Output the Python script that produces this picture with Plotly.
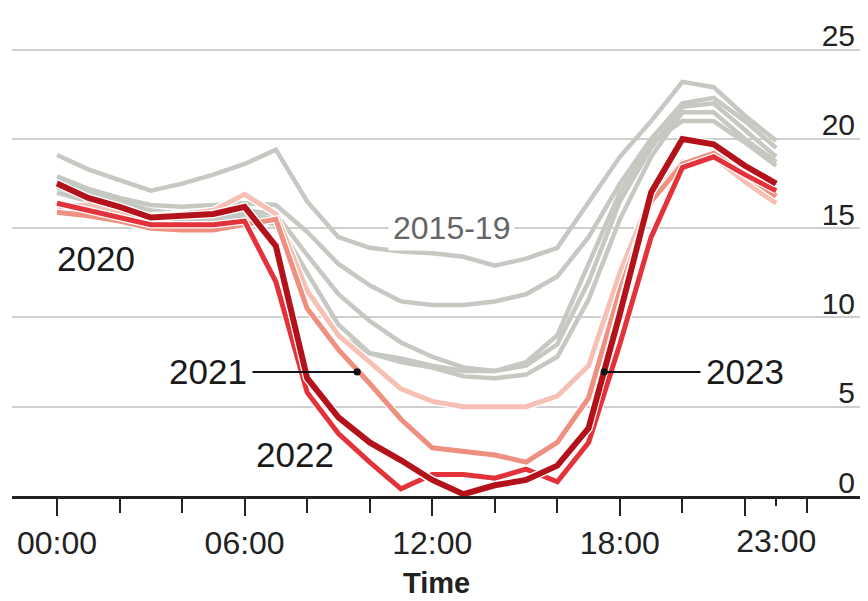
import plotly.graph_objects as go

# ---------------- data ----------------
hours = list(range(24))

gray_a = [19.1, 18.3, 17.7, 17.1, 17.5, 18.0, 18.6, 19.4, 16.5, 14.5, 13.9, 13.7,
          13.6, 13.4, 12.9, 13.3, 13.9, 16.5, 19.0, 21.0, 23.2, 22.9, 21.3, 19.9]
gray_b = [17.9, 17.2, 16.7, 16.3, 16.2, 16.3, 16.4, 16.3, 14.8, 13.0, 11.8, 10.9,
          10.7, 10.7, 10.9, 11.3, 12.3, 14.5, 17.5, 20.0, 22.0, 22.3, 21.0, 19.5]
gray_c = [17.6, 17.0, 16.5, 16.0, 15.8, 15.8, 16.0, 15.8, 13.5, 11.3, 9.8, 8.6,
          7.8, 7.2, 7.0, 7.3, 8.5, 12.0, 16.5, 19.5, 21.8, 22.0, 20.5, 19.0]
gray_d = [17.3, 16.7, 16.2, 15.8, 15.6, 15.6, 15.8, 15.5, 12.5, 9.6, 8.0, 7.5,
          7.2, 6.7, 6.6, 6.8, 7.8, 11.0, 15.5, 19.0, 21.5, 21.5, 20.0, 18.7]
gray_e = [17.0, 16.5, 16.0, 15.6, 15.5, 15.5, 15.6, 15.2, 11.5, 9.0, 8.0, 7.7,
          7.3, 7.0, 7.0, 7.5, 9.0, 13.0, 17.0, 19.8, 21.0, 21.0, 19.8, 18.5]
gray_years = [gray_a, gray_b, gray_c, gray_d, gray_e]

y2020 = [16.2, 16.3, 15.8, 15.7, 15.8, 16.0, 16.9, 15.8, 11.5, 9.0, 7.5, 6.0,
         5.3, 5.0, 5.0, 5.0, 5.6, 7.3, 12.5, 16.8, 18.7, 19.0, 17.6, 16.4]
y2021 = [15.9, 15.7, 15.4, 15.0, 14.9, 14.9, 15.2, 15.5, 10.5, 8.2, 6.3, 4.3,
         2.7, 2.5, 2.3, 1.9, 3.0, 5.5, 11.5, 16.5, 18.6, 19.2, 18.0, 16.8]
y2022 = [16.4, 16.0, 15.6, 15.2, 15.2, 15.2, 15.4, 12.0, 5.8, 3.5, 1.9, 0.4,
         1.2, 1.2, 1.0, 1.5, 0.8, 3.0, 8.5, 14.5, 18.4, 19.0, 18.0, 17.1]
y2023 = [17.5, 16.7, 16.2, 15.6, 15.7, 15.8, 16.2, 14.0, 6.6, 4.4, 3.0, 2.0,
         0.9, 0.1, 0.6, 0.9, 1.7, 3.8, 10.2, 17.0, 20.0, 19.7, 18.5, 17.5]

red_series = [("2020", y2020, "#f6c0b4", 5),
              ("2021", y2021, "#ee8f80", 5),
              ("2022", y2022, "#e3323a", 5),
              ("2023", y2023, "#b3121b", 6)]

x_tick_vals = [0, 6, 12, 18, 22]
x_tick_text = ["00:00", "06:00", "12:00", "18:00", ""]
x_end_tick = [23]
x_end_text = ["23:00"]
y_tick_vals = [0, 5, 10, 15, 20, 25]
x_title = "Time"

FONT = "Liberation Sans, Arial, sans-serif"
GRAY = "#c6c8c2"

fig = go.Figure()

for i, g in enumerate(gray_years):
    fig.add_trace(go.Scatter(x=hours, y=g, mode="lines", name=f"gray{i}",
                             line=dict(color=GRAY, width=4.5), hoverinfo="skip"))

for name, vals, col, w in red_series:
    fig.add_trace(go.Scatter(x=hours, y=vals, mode="lines", name=name + " halo",
                             line=dict(color="white", width=w + 2.5), hoverinfo="skip"))
    fig.add_trace(go.Scatter(x=hours, y=vals, mode="lines", name=name,
                             line=dict(color=col, width=w)))

xr = [-1.439, 25.68]

fig.update_layout(
    width=852, height=593,
    margin=dict(l=4, r=0, t=6, b=105, autoexpand=False),
    paper_bgcolor="white", plot_bgcolor="white",
    showlegend=False,
    font=dict(family=FONT, color="#1a1a1a"),
    xaxis=dict(range=xr, tickmode="array", tickvals=x_tick_vals, ticktext=x_tick_text,
               ticks="outside", ticklen=17, tickwidth=2, tickcolor="#222",
               showline=True, linecolor="#222", linewidth=2.5,
               showgrid=False, zeroline=False, automargin=False,
               minor=dict(tickmode="linear", tick0=0, dtick=2, ticks="outside",
                          ticklen=14, tickwidth=2, tickcolor="#222", showgrid=False),
               tickfont=dict(size=32, color="#222"), ticklabelstandoff=0),
    xaxis2=dict(range=xr, overlaying="x", anchor="y", side="bottom",
                tickmode="array", tickvals=x_end_tick, ticktext=x_end_text,
                ticks="outside", ticklen=9, tickwidth=2, tickcolor="#222",
                showline=False, showgrid=False, zeroline=False, automargin=False,
                tickfont=dict(size=32, color="#222"), ticklabelstandoff=8),
    yaxis=dict(range=[0, 27], side="right", tickmode="array", tickvals=y_tick_vals,
               ticklabelposition="inside", ticklabeloverflow="allow",
               ticks="", showline=False, zeroline=False, automargin=False,
               showgrid=True, gridcolor="#cfcfcf", gridwidth=1.5,
               ticklabelshift=-14, ticklabelstandoff=2,
               tickfont=dict(size=30, color="#222")),
)

# dummy trace on xaxis2 so it renders
fig.add_trace(go.Scatter(x=[None], y=[None], xaxis="x2", showlegend=False, hoverinfo="skip"))

# axis title
fig.add_annotation(x=0.5, y=-0.18, xref="paper", yref="paper", yanchor="middle",
                   text=f"<b>{x_title}</b>", showarrow=False,
                   font=dict(size=29, color="#222", family=FONT))

txt = dict(size=35, color="#1a1a1a", family=FONT)
fig.add_annotation(x=12.63, y=15.0, text="2015-19", showarrow=False,
                   font=dict(size=32, color="#666666", family=FONT),
                   bgcolor="white", borderpad=4)
fig.add_annotation(x=1.25, y=13.3, text="2020", showarrow=False, font=txt)
fig.add_annotation(x=7.6, y=2.35, text="2022", showarrow=False, font=txt)
fig.add_annotation(x=9.6, y=6.95, ax=4.83, ay=6.95, axref="x", ayref="y",
                   text="2021", showarrow=True, arrowhead=6, arrowsize=0.9,
                   arrowwidth=2, arrowcolor="#111", font=txt, borderpad=5)
fig.add_annotation(x=17.5, y=6.95, ax=22.0, ay=6.95, axref="x", ayref="y",
                   text="2023", showarrow=True, arrowhead=6, arrowsize=0.9,
                   arrowwidth=2, arrowcolor="#111", font=txt, borderpad=5)

fig.write_html("out.html")
